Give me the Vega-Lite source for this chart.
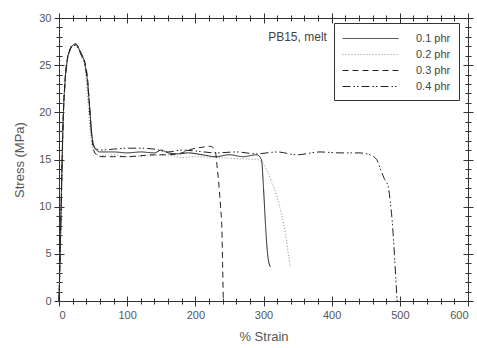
{
  "$schema": "https://vega.github.io/schema/vega-lite/v6.json",
  "width": 409,
  "height": 283,
  "autosize": "none",
  "padding": {"left": 59, "top": 18, "right": 9, "bottom": 47},
  "background": "white",
  "config": {
    "view": {"stroke": "#333", "strokeWidth": 1},
    "font": "Liberation Sans",
    "axis": {"domain": false, "grid": false, "tickColor": "#333", "labelColor": "#555", "titleColor": "#555", "labelFontSize": 11, "titleFontSize": 13, "titleFontWeight": "normal", "labelFont": "Liberation Sans", "titleFont": "Liberation Sans"}
  },
  "datasets": {
    "curves": [
      {"series": "0.1 phr", "strain": 0, "stress": 0},
      {"series": "0.1 phr", "strain": 2, "stress": 6},
      {"series": "0.1 phr", "strain": 4, "stress": 13},
      {"series": "0.1 phr", "strain": 6, "stress": 19},
      {"series": "0.1 phr", "strain": 9, "stress": 23.5},
      {"series": "0.1 phr", "strain": 12, "stress": 25.5},
      {"series": "0.1 phr", "strain": 16, "stress": 26.6},
      {"series": "0.1 phr", "strain": 20, "stress": 27.1},
      {"series": "0.1 phr", "strain": 24, "stress": 27.2},
      {"series": "0.1 phr", "strain": 28, "stress": 26.9},
      {"series": "0.1 phr", "strain": 33, "stress": 26.1},
      {"series": "0.1 phr", "strain": 38, "stress": 25.2},
      {"series": "0.1 phr", "strain": 42, "stress": 23.2},
      {"series": "0.1 phr", "strain": 45, "stress": 20.5},
      {"series": "0.1 phr", "strain": 48, "stress": 17.8},
      {"series": "0.1 phr", "strain": 51, "stress": 16.5},
      {"series": "0.1 phr", "strain": 55, "stress": 16.0},
      {"series": "0.1 phr", "strain": 60, "stress": 15.8},
      {"series": "0.1 phr", "strain": 80, "stress": 15.8},
      {"series": "0.1 phr", "strain": 100, "stress": 15.7},
      {"series": "0.1 phr", "strain": 120, "stress": 15.8},
      {"series": "0.1 phr", "strain": 140, "stress": 15.7},
      {"series": "0.1 phr", "strain": 150, "stress": 16.0},
      {"series": "0.1 phr", "strain": 160, "stress": 15.7},
      {"series": "0.1 phr", "strain": 175, "stress": 15.6},
      {"series": "0.1 phr", "strain": 190, "stress": 15.7},
      {"series": "0.1 phr", "strain": 210, "stress": 15.5},
      {"series": "0.1 phr", "strain": 230, "stress": 15.3},
      {"series": "0.1 phr", "strain": 250, "stress": 15.5},
      {"series": "0.1 phr", "strain": 270, "stress": 15.3},
      {"series": "0.1 phr", "strain": 290, "stress": 15.5},
      {"series": "0.1 phr", "strain": 297, "stress": 15.0},
      {"series": "0.1 phr", "strain": 300, "stress": 12},
      {"series": "0.1 phr", "strain": 303, "stress": 8},
      {"series": "0.1 phr", "strain": 306, "stress": 5},
      {"series": "0.1 phr", "strain": 310, "stress": 3.6},
      {"series": "0.2 phr", "strain": 0, "stress": 0},
      {"series": "0.2 phr", "strain": 2, "stress": 5.5},
      {"series": "0.2 phr", "strain": 4, "stress": 12.5},
      {"series": "0.2 phr", "strain": 6, "stress": 18.5},
      {"series": "0.2 phr", "strain": 9, "stress": 23},
      {"series": "0.2 phr", "strain": 12, "stress": 25.3},
      {"series": "0.2 phr", "strain": 16, "stress": 26.5},
      {"series": "0.2 phr", "strain": 20, "stress": 27.0},
      {"series": "0.2 phr", "strain": 24, "stress": 27.1},
      {"series": "0.2 phr", "strain": 28, "stress": 26.8},
      {"series": "0.2 phr", "strain": 33, "stress": 26.0},
      {"series": "0.2 phr", "strain": 38, "stress": 24.8},
      {"series": "0.2 phr", "strain": 41, "stress": 22.5},
      {"series": "0.2 phr", "strain": 44, "stress": 19.5},
      {"series": "0.2 phr", "strain": 47, "stress": 17.2},
      {"series": "0.2 phr", "strain": 50, "stress": 16.0},
      {"series": "0.2 phr", "strain": 55, "stress": 15.6},
      {"series": "0.2 phr", "strain": 60, "stress": 15.4},
      {"series": "0.2 phr", "strain": 80, "stress": 15.5},
      {"series": "0.2 phr", "strain": 100, "stress": 15.3},
      {"series": "0.2 phr", "strain": 130, "stress": 15.4},
      {"series": "0.2 phr", "strain": 160, "stress": 15.5},
      {"series": "0.2 phr", "strain": 180, "stress": 15.2},
      {"series": "0.2 phr", "strain": 200, "stress": 15.3},
      {"series": "0.2 phr", "strain": 230, "stress": 15.2},
      {"series": "0.2 phr", "strain": 260, "stress": 15.1},
      {"series": "0.2 phr", "strain": 290, "stress": 15.0},
      {"series": "0.2 phr", "strain": 300, "stress": 14.5},
      {"series": "0.2 phr", "strain": 310, "stress": 13.0},
      {"series": "0.2 phr", "strain": 320, "stress": 11.0},
      {"series": "0.2 phr", "strain": 326, "stress": 9.3},
      {"series": "0.2 phr", "strain": 332, "stress": 7.2},
      {"series": "0.2 phr", "strain": 336, "stress": 5.2},
      {"series": "0.2 phr", "strain": 339, "stress": 3.6},
      {"series": "0.3 phr", "strain": 0, "stress": 0},
      {"series": "0.3 phr", "strain": 2, "stress": 6},
      {"series": "0.3 phr", "strain": 4, "stress": 13},
      {"series": "0.3 phr", "strain": 6, "stress": 19},
      {"series": "0.3 phr", "strain": 9, "stress": 23.5},
      {"series": "0.3 phr", "strain": 12, "stress": 25.6},
      {"series": "0.3 phr", "strain": 16, "stress": 26.7},
      {"series": "0.3 phr", "strain": 20, "stress": 27.2},
      {"series": "0.3 phr", "strain": 24, "stress": 27.3},
      {"series": "0.3 phr", "strain": 28, "stress": 27.0},
      {"series": "0.3 phr", "strain": 33, "stress": 26.2},
      {"series": "0.3 phr", "strain": 38, "stress": 25.3},
      {"series": "0.3 phr", "strain": 42, "stress": 23.5},
      {"series": "0.3 phr", "strain": 45, "stress": 20.5},
      {"series": "0.3 phr", "strain": 48, "stress": 17.5},
      {"series": "0.3 phr", "strain": 51, "stress": 16.0},
      {"series": "0.3 phr", "strain": 55, "stress": 15.5},
      {"series": "0.3 phr", "strain": 60, "stress": 15.3},
      {"series": "0.3 phr", "strain": 80, "stress": 15.3},
      {"series": "0.3 phr", "strain": 100, "stress": 15.3},
      {"series": "0.3 phr", "strain": 120, "stress": 15.4},
      {"series": "0.3 phr", "strain": 140, "stress": 15.5},
      {"series": "0.3 phr", "strain": 160, "stress": 15.5},
      {"series": "0.3 phr", "strain": 180, "stress": 15.7},
      {"series": "0.3 phr", "strain": 195, "stress": 16.1},
      {"series": "0.3 phr", "strain": 210, "stress": 16.3},
      {"series": "0.3 phr", "strain": 222, "stress": 16.4},
      {"series": "0.3 phr", "strain": 229, "stress": 16.0},
      {"series": "0.3 phr", "strain": 232, "stress": 14.2},
      {"series": "0.3 phr", "strain": 234, "stress": 12.8},
      {"series": "0.3 phr", "strain": 237, "stress": 10},
      {"series": "0.3 phr", "strain": 239, "stress": 7.5},
      {"series": "0.3 phr", "strain": 240, "stress": 4},
      {"series": "0.3 phr", "strain": 241, "stress": 0},
      {"series": "0.4 phr", "strain": 0, "stress": 0},
      {"series": "0.4 phr", "strain": 2, "stress": 5.8},
      {"series": "0.4 phr", "strain": 4, "stress": 12.8},
      {"series": "0.4 phr", "strain": 6, "stress": 18.8},
      {"series": "0.4 phr", "strain": 9, "stress": 23.2},
      {"series": "0.4 phr", "strain": 12, "stress": 25.4},
      {"series": "0.4 phr", "strain": 16, "stress": 26.6},
      {"series": "0.4 phr", "strain": 20, "stress": 27.0},
      {"series": "0.4 phr", "strain": 24, "stress": 27.1},
      {"series": "0.4 phr", "strain": 28, "stress": 26.8},
      {"series": "0.4 phr", "strain": 33, "stress": 26.0},
      {"series": "0.4 phr", "strain": 38, "stress": 25.0},
      {"series": "0.4 phr", "strain": 42, "stress": 23.0},
      {"series": "0.4 phr", "strain": 45, "stress": 20.3},
      {"series": "0.4 phr", "strain": 48, "stress": 17.6},
      {"series": "0.4 phr", "strain": 51, "stress": 16.4},
      {"series": "0.4 phr", "strain": 55, "stress": 16.1},
      {"series": "0.4 phr", "strain": 60, "stress": 16.0},
      {"series": "0.4 phr", "strain": 80, "stress": 16.1},
      {"series": "0.4 phr", "strain": 100, "stress": 16.2},
      {"series": "0.4 phr", "strain": 120, "stress": 16.2},
      {"series": "0.4 phr", "strain": 140, "stress": 16.1},
      {"series": "0.4 phr", "strain": 160, "stress": 15.8},
      {"series": "0.4 phr", "strain": 180, "stress": 16.0},
      {"series": "0.4 phr", "strain": 200, "stress": 15.9},
      {"series": "0.4 phr", "strain": 230, "stress": 15.7},
      {"series": "0.4 phr", "strain": 260, "stress": 15.8},
      {"series": "0.4 phr", "strain": 290, "stress": 15.6},
      {"series": "0.4 phr", "strain": 320, "stress": 15.8},
      {"series": "0.4 phr", "strain": 349, "stress": 15.5},
      {"series": "0.4 phr", "strain": 383, "stress": 15.8},
      {"series": "0.4 phr", "strain": 412, "stress": 15.7},
      {"series": "0.4 phr", "strain": 440, "stress": 15.7},
      {"series": "0.4 phr", "strain": 456, "stress": 15.5},
      {"series": "0.4 phr", "strain": 466, "stress": 15.0},
      {"series": "0.4 phr", "strain": 471, "stress": 14.1},
      {"series": "0.4 phr", "strain": 477, "stress": 13.0},
      {"series": "0.4 phr", "strain": 483, "stress": 12.1},
      {"series": "0.4 phr", "strain": 486, "stress": 10.5},
      {"series": "0.4 phr", "strain": 489, "stress": 8.3},
      {"series": "0.4 phr", "strain": 492, "stress": 5},
      {"series": "0.4 phr", "strain": 494, "stress": 2.5},
      {"series": "0.4 phr", "strain": 496, "stress": 0}
    ],
    "note": [{"label": "PB15, melt", "strain": 393, "stress": 27.6}]
  },
  "resolve": {"axis": {"x": "independent", "y": "independent"}},
  "layer": [
    {
      "data": {"name": "curves"},
      "mark": {"type": "line", "strokeWidth": 1, "interpolate": "monotone"},
      "encoding": {
        "x": {"field": "strain", "type": "quantitative", "scale": {"domain": [0, 600], "nice": false},
          "axis": {"orient": "bottom", "title": "% Strain", "values": [0, 100, 200, 300, 400, 500, 600], "offset": -5, "tickSize": 10, "labelPadding": 3, "titlePadding": 10}},
        "y": {"field": "stress", "type": "quantitative", "scale": {"domain": [0, 30], "nice": false},
          "axis": {"orient": "left", "title": "Stress (MPa)", "values": [0, 5, 10, 15, 20, 25, 30], "offset": -5, "tickSize": 10, "labelPadding": 3, "titlePadding": 12}},
        "detail": {"field": "series"},
        "color": {"field": "series", "type": "nominal", "title": null,
          "scale": {"domain": ["0.1 phr", "0.2 phr", "0.3 phr", "0.4 phr"], "range": ["#222222", "#888888", "#222222", "#222222"]}},
        "strokeDash": {"field": "series", "type": "nominal", "title": null,
          "scale": {"domain": ["0.1 phr", "0.2 phr", "0.3 phr", "0.4 phr"], "range": [[1, 0], [1, 2], [6, 4], [8, 3, 1.5, 2, 1.5, 3]]},
          "legend": {"orient": "none", "legendX": 275, "legendY": 5, "strokeColor": "#333", "padding": 8, "symbolType": "M-4,0H4", "symbolSize": 196, "symbolOffset": 21, "symbolStrokeWidth": 1, "labelFontSize": 11, "labelColor": "#444", "labelOffset": 38, "rowPadding": 3, "fillColor": "white"}}
      }
    },
    {
      "data": {"name": "curves"},
      "mark": {"type": "point", "opacity": 0},
      "encoding": {
        "x": {"field": "strain", "type": "quantitative",
          "axis": {"orient": "bottom", "title": null, "labels": false, "values": [0,20,40,60,80,100,120,140,160,180,200,220,240,260,280,300,320,340,360,380,400,420,440,460,480,500,520,540,560,580,600], "offset": -3, "tickSize": 6}},
        "y": {"field": "stress", "type": "quantitative",
          "axis": {"orient": "left", "title": null, "labels": false, "values": [0,1,2,3,4,5,6,7,8,9,10,11,12,13,14,15,16,17,18,19,20,21,22,23,24,25,26,27,28,29,30], "offset": -3, "tickSize": 6}}
      }
    },
    {
      "data": {"name": "curves"},
      "mark": {"type": "point", "opacity": 0},
      "encoding": {
        "x": {"field": "strain", "type": "quantitative",
          "axis": {"orient": "top", "title": null, "labels": false, "values": [0, 100, 200, 300, 400, 500, 600], "offset": -5, "tickSize": 10}},
        "y": {"field": "stress", "type": "quantitative",
          "axis": {"orient": "right", "title": null, "labels": false, "values": [0, 5, 10, 15, 20, 25, 30], "offset": -5, "tickSize": 10}}
      }
    },
    {
      "data": {"name": "curves"},
      "mark": {"type": "point", "opacity": 0},
      "encoding": {
        "x": {"field": "strain", "type": "quantitative",
          "axis": {"orient": "top", "title": null, "labels": false, "values": [0,20,40,60,80,100,120,140,160,180,200,220,240,260,280,300,320,340,360,380,400,420,440,460,480,500,520,540,560,580,600], "offset": -3, "tickSize": 6}},
        "y": {"field": "stress", "type": "quantitative",
          "axis": {"orient": "right", "title": null, "labels": false, "values": [0,1,2,3,4,5,6,7,8,9,10,11,12,13,14,15,16,17,18,19,20,21,22,23,24,25,26,27,28,29,30], "offset": -3, "tickSize": 6}}
      }
    },
    {
      "data": {"name": "note"},
      "mark": {"type": "text", "align": "right", "baseline": "alphabetic", "fontSize": 12, "color": "#444", "font": "Liberation Sans"},
      "encoding": {
        "x": {"field": "strain", "type": "quantitative", "axis": null},
        "y": {"field": "stress", "type": "quantitative", "axis": null},
        "text": {"field": "label"}
      }
    }
  ]
}
